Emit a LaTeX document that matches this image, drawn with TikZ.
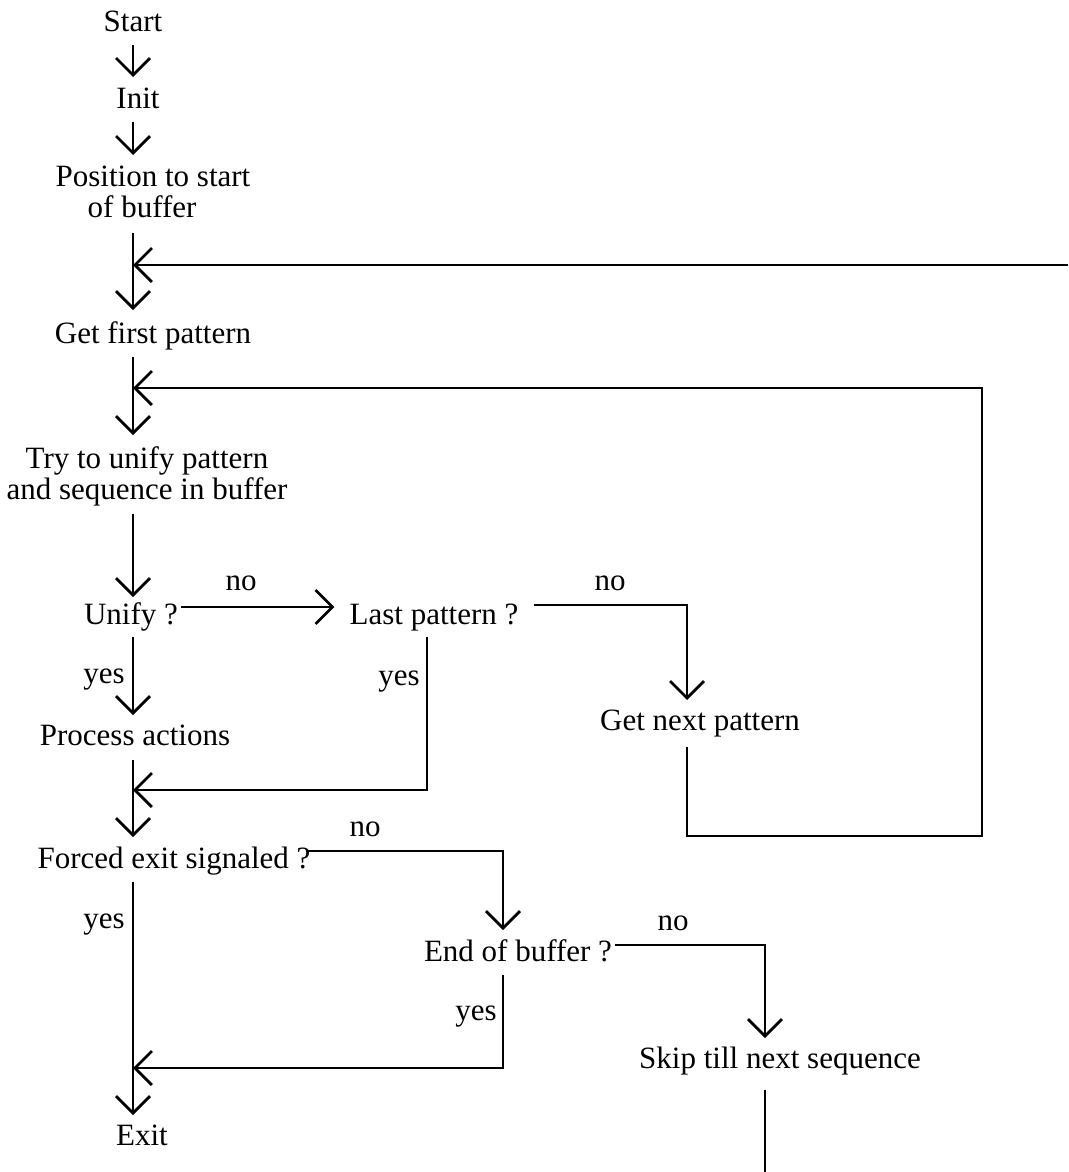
\documentclass[tikz,border=0pt]{standalone}
\usepackage{fontspec}
\setmainfont{Liberation Serif}
\usetikzlibrary{arrows.meta}
\begin{document}
\begin{tikzpicture}[x=1pt,y=-1pt,
  txt/.style={font=\fontsize{31}{31}\selectfont, inner sep=0pt, anchor=base},
  conn/.style={line width=2.7pt},
  arr/.style={conn, -{Straight Barb[length=17pt,width=34pt]}}]
\fill[white] (0,0) rectangle (1068,1172);
\useasboundingbox (0,0) rectangle (1068,1172);

% column guides
\coordinate (col)  at (133,0);
\coordinate (colL) at (427,0);
\coordinate (colN) at (687,0);
\coordinate (colE) at (503,0);
\coordinate (colS) at (765,0);
% junctions / corners / free ends
\coordinate (topin)  at (1068,265);
\coordinate (jn1)    at (133,388);
\coordinate (loopB)  at (982,836);
\coordinate (jn2)    at (133,790);
\coordinate (jn3)    at (133,1068);
\coordinate (botout) at (765,1172);

% nodes
\node[txt] (start) at (133,32) {Start};
\node[txt] (init) at (138,108) {Init};
\node[txt, anchor=north, align=left] (pos) at (153,166) {Position to start\\\hspace*{32pt}of buffer};
\node[txt] (getfirst) at (153,343) {Get first pattern};
\node[txt, anchor=north, align=center] (try) at (147,446) {Try to unify pattern\\and sequence in buffer};
\node[txt] (unify) at (131,624) {Unify ?};
\node[txt] (last) at (434,624) {Last pattern ?};
\node[txt] (getnext) at (700,730) {Get next pattern};
\node[txt] (process) at (135,745) {Process actions};
\node[txt] (forced) at (174,868) {Forced exit signaled ?};
\node[txt] (endbuf) at (518,961) {End of buffer ?};
\node[txt] (skip) at (780,1068) {Skip till next sequence};
\node[txt] (exit) at (142,1145) {Exit};

% labels
\node[txt] (no1) at (241,590) {no};
\node[txt] (no2) at (610,590) {no};
\node[txt, anchor=base east] (yes1) at (125,683) {yes};
\node[txt, anchor=base east] (yes2) at (420,685) {yes};
\node[txt] (no3) at (365,836) {no};
\node[txt, anchor=base east] (yes3) at (125,928) {yes};
\node[txt] (no4) at (673,930) {no};
\node[txt, anchor=base east] (yes4) at (497,1020) {yes};

% connectors
\draw[arr] ([yshift=-13pt]start.base -| col) -- ([yshift=31pt]init.base -| col);
\draw[arr] ([yshift=-14pt]init.base -| col) -- ([yshift=11pt]pos.north -| col);
\draw[arr] ([yshift=-15pt]pos.south -| col) -- ([yshift=33pt]getfirst.base -| col);
\draw[arr] (topin) -- (topin -| col);
\draw[arr] ([yshift=-14pt]getfirst.base -| col) -- ([yshift=11pt]try.north -| col);
\draw[arr] ([yshift=-8pt]try.south -| col) -- ([yshift=27pt]unify.base -| col);
\draw[arr] ([xshift=3pt,yshift=17pt]unify.base east) -- ([xshift=-15pt,yshift=17pt]last.base west);
\draw[arr] ([xshift=15pt,yshift=19pt]last.base east) -| ([yshift=30pt]getnext.base -| colN);
\draw[arr] ([yshift=-17pt]getnext.base -| colN) |- (loopB) |- (jn1);
\draw[arr] ([yshift=-13pt]unify.base -| col) -- ([yshift=30pt]process.base -| col);
\draw[arr] ([yshift=-13pt]last.base -| colL) |- (jn2);
\draw[arr] ([yshift=-15pt]process.base -| col) -- ([yshift=31pt]forced.base -| col);
\draw[arr] ([xshift=-5pt,yshift=17pt]forced.base east) -| ([yshift=31pt]endbuf.base -| colE);
\draw[arr] ([yshift=-14pt]forced.base -| col) -- ([yshift=30pt]exit.base -| col);
\draw[arr] ([yshift=-14pt]endbuf.base -| colE) |- (jn3);
\draw[arr] ([xshift=3pt,yshift=16pt]endbuf.base east) -| ([yshift=30pt]skip.base -| colS);
\draw[conn] ([yshift=-22pt]skip.base -| colS) -- (botout);
\end{tikzpicture}
\end{document}
